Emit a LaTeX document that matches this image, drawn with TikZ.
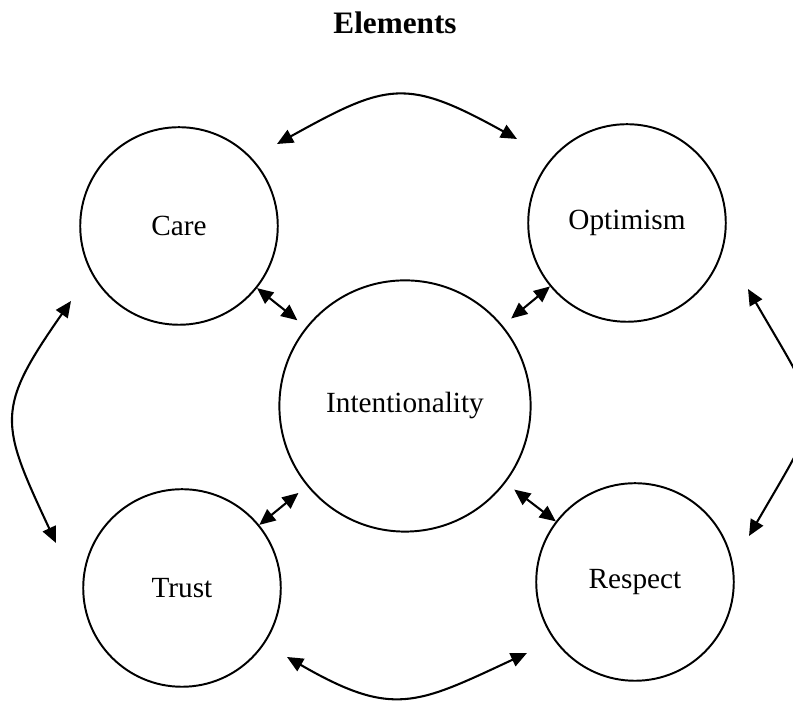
\documentclass[tikz,border=0pt]{standalone}
\usepackage{fontspec}
\setmainfont{Liberation Serif}
\usetikzlibrary{arrows.meta}

\begin{document}
\begin{tikzpicture}[x=0.41pt, y=0.41pt,
    elem/.style={draw, circle, line width=0.8pt, inner sep=0pt, minimum size=81pt, font=\fontsize{12}{14}\selectfont},
    link/.style={{Triangle[length=6.6pt,width=5.8pt]}-{Triangle[length=6.6pt,width=5.8pt]}, line width=0.85pt}]
    \useasboundingbox (0,0) rectangle (793,704);

    \node[font=\fontsize{12.8}{15}\selectfont\bfseries] (title) at (395,681) {Elements};

    \node[elem] (care) at (179,478) {Care};
    \node[elem] (opt) at (627,481) {Optimism};
    \node[elem, minimum size=103pt] (intent) at (405,298) {Intentionality};
    \node[elem] (trust) at (182,116) {Trust};
    \node[elem] (resp) at (635,122) {Respect};

    \coordinate (tl) at (277,560);
    \coordinate (tr) at (517,565);
    \coordinate (lt) at (71,403);
    \coordinate (lb) at (56,161);
    \coordinate (rt) at (748,415);
    \coordinate (rb) at (749,168);
    \coordinate (bl) at (287,47);
    \coordinate (br) at (527,51);

    \draw[link, shorten >=4.5pt] (care) -- (intent);
    \draw[link, shorten >=4.5pt] (opt) -- (intent);
    \draw[link, shorten >=4.5pt] (trust) -- (intent);
    \draw[link, shorten >=4.5pt] (resp) -- (intent);

    \draw[link] (tl) to[out=29, in=151, looseness=1.35] (tr);
    \draw[link] (lt) to[out=235, in=115, looseness=1.4] (lb);
    \draw[link] (rt) to[out=-60, in=60, looseness=1.6] (rb);
    \draw[link] (bl) to[out=-30, in=-155, looseness=1.3] (br);
\end{tikzpicture}
\end{document}
